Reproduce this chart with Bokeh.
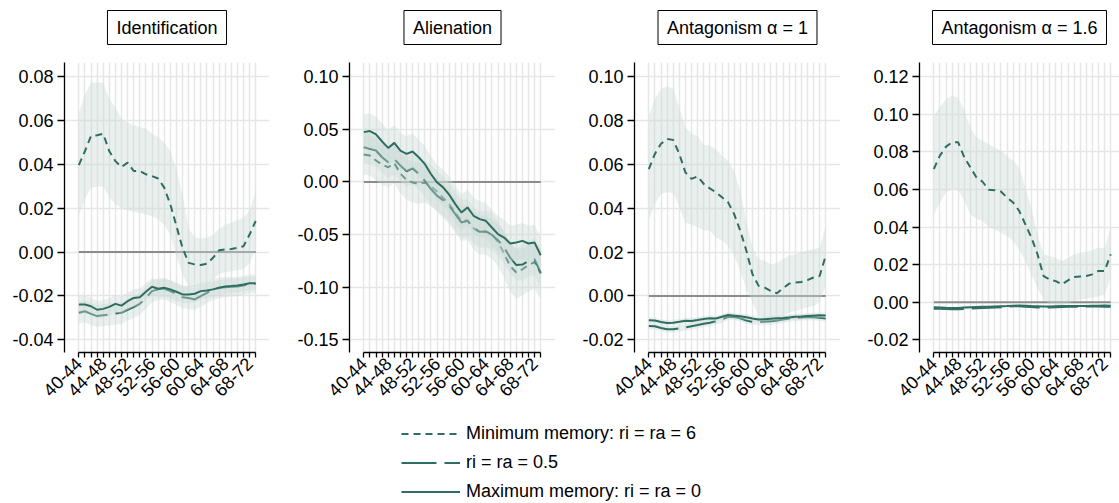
import math
from bokeh.plotting import figure
from bokeh.models import Range1d, FixedTicker, NumeralTickFormatter, Legend, LegendItem, Title
from bokeh.layouts import column, row
from bokeh.embed import file_html
from bokeh.resources import INLINE

# ---------------- data ----------------
cats = ["40-44", "41-45", "42-46", "43-47", "44-48", "45-49", "46-50", "47-51", "48-52", "49-53",
        "50-54", "51-55", "52-56", "53-57", "54-58", "55-59", "56-60", "57-61", "58-62", "59-63",
        "60-64", "61-65", "62-66", "63-67", "64-68", "65-69", "66-70", "67-71", "68-72", "69-73"]

titles = ["Identification", "Alienation", "Antagonism \u03b1 = 1", "Antagonism \u03b1 = 1.6"]
legend_labels = ["Minimum memory: ri = ra = 6", "ri = ra = 0.5", "Maximum memory: ri = ra = 0"]

id_ticks = [-0.04, -0.02, 0.00, 0.02, 0.04, 0.06, 0.08]
al_ticks = [-0.15, -0.10, -0.05, 0.00, 0.05, 0.10]
a1_ticks = [-0.02, 0.00, 0.02, 0.04, 0.06, 0.08, 0.10]
a16_ticks = [-0.02, 0.00, 0.02, 0.04, 0.06, 0.08, 0.10, 0.12]

# Identification
id_min = [0.0397, 0.0460, 0.0530, 0.0533, 0.0540, 0.0460, 0.0415, 0.0388, 0.0408, 0.0370, 0.0370, 0.0355, 0.0347, 0.0336, 0.0294,
          0.0218, 0.0119, 0.0020, -0.0049, -0.0056, -0.0059, -0.0053, -0.0026, 0.0008, 0.0012, 0.0014, 0.0020, 0.0027, 0.0080, 0.0142]
id_min_hi = [0.0636, 0.0720, 0.0773, 0.0775, 0.0773, 0.0700, 0.0660, 0.0610, 0.0590, 0.0580, 0.0570, 0.0565, 0.0540, 0.0525, 0.0500,
             0.0460, 0.0380, 0.0260, 0.0110, 0.0065, 0.0062, 0.0065, 0.0080, 0.0105, 0.0125, 0.0135, 0.0145, 0.0157, 0.0190, 0.0280]
id_min_lo = [0.0164, 0.0240, 0.0294, 0.0298, 0.0300, 0.0250, 0.0218, 0.0200, 0.0190, 0.0185, 0.0180, 0.0172, 0.0164, 0.0150, 0.0125,
             0.0080, -0.0020, -0.0100, -0.0160, -0.0160, -0.0155, -0.0140, -0.0125, -0.0100, -0.0092, -0.0087, -0.0082, -0.0078, -0.0050, 0.0012]
id_half = [-0.0277, -0.0270, -0.0282, -0.0292, -0.0288, -0.0285, -0.0280, -0.0277, -0.0263, -0.0251, -0.0236, -0.0209, -0.0178, -0.0170, -0.0166,
           -0.0178, -0.0190, -0.0206, -0.0209, -0.0216, -0.0201, -0.0186, -0.0170, -0.0163, -0.0160, -0.0158, -0.0157, -0.0152, -0.0145, -0.0145]
id_half_lo = [-0.0327, -0.0320, -0.0332, -0.0342, -0.0338, -0.0335, -0.0330, -0.0327, -0.0313, -0.0301, -0.0286, -0.0259, -0.0228, -0.0220, -0.0216,
              -0.0228, -0.0240, -0.0256, -0.0259, -0.0264, -0.0249, -0.0234, -0.0218, -0.0210, -0.0206, -0.0203, -0.0201, -0.0196, -0.0188, -0.0188]
id_half_hi = [-0.0227, -0.0220, -0.0232, -0.0242, -0.0238, -0.0235, -0.0230, -0.0227, -0.0213, -0.0201, -0.0186, -0.0159, -0.0128, -0.0120, -0.0116,
              -0.0128, -0.0140, -0.0156, -0.0159, -0.0168, -0.0153, -0.0138, -0.0122, -0.0116, -0.0114, -0.0113, -0.0113, -0.0108, -0.0102, -0.0102]
id_max = [-0.0239, -0.0239, -0.0247, -0.0263, -0.0259, -0.0250, -0.0236, -0.0244, -0.0224, -0.0209, -0.0206, -0.0181, -0.0158, -0.0167, -0.0163,
          -0.0170, -0.0181, -0.0193, -0.0193, -0.0190, -0.0178, -0.0175, -0.0170, -0.0163, -0.0157, -0.0155, -0.0152, -0.0148, -0.0142, -0.0142]
id_max_lo = [-0.0279, -0.0279, -0.0287, -0.0303, -0.0299, -0.0290, -0.0276, -0.0284, -0.0264, -0.0249, -0.0246, -0.0221, -0.0198, -0.0207, -0.0203,
             -0.0210, -0.0221, -0.0233, -0.0233, -0.0229, -0.0216, -0.0212, -0.0206, -0.0198, -0.0191, -0.0188, -0.0184, -0.0180, -0.0173, -0.0173]
id_max_hi = [-0.0199, -0.0199, -0.0207, -0.0223, -0.0219, -0.0210, -0.0196, -0.0204, -0.0184, -0.0169, -0.0166, -0.0141, -0.0118, -0.0127, -0.0123,
             -0.0130, -0.0141, -0.0153, -0.0153, -0.0151, -0.0140, -0.0138, -0.0134, -0.0128, -0.0123, -0.0122, -0.0120, -0.0116, -0.0111, -0.0111]

# Alienation
al_min = [0.0261, 0.0251, 0.0204, 0.0165, 0.0140, 0.0178, 0.0080, 0.0020, -0.0005, -0.0020, -0.0005, -0.0040, -0.0090, -0.0150, -0.0210,
          -0.0290, -0.0370, -0.0365, -0.0440, -0.0480, -0.0470, -0.0500, -0.0570, -0.0680, -0.0800, -0.0860, -0.0830, -0.0790, -0.0760, -0.0870]
al_min_hi = [0.0461, 0.0451, 0.0404, 0.0365, 0.0340, 0.0378, 0.0280, 0.0220, 0.0195, 0.0180, 0.0195, 0.0160, 0.0110, 0.0050, -0.0010,
             -0.0090, -0.0170, -0.0165, -0.0240, -0.0280, -0.0270, -0.0300, -0.0370, -0.0470, -0.0580, -0.0630, -0.0600, -0.0560, -0.0530, -0.0640]
al_min_lo = [0.0071, 0.0061, 0.0014, -0.0025, -0.0050, -0.0012, -0.0110, -0.0170, -0.0195, -0.0210, -0.0195, -0.0230, -0.0280, -0.0340, -0.0400,
             -0.0480, -0.0560, -0.0555, -0.0640, -0.0690, -0.0690, -0.0730, -0.0800, -0.0910, -0.1040, -0.1110, -0.1080, -0.1040, -0.1010, -0.1120]
al_half = [0.0331, 0.0315, 0.0299, 0.0235, 0.0188, 0.0219, 0.0156, 0.0102, 0.0130, 0.0076, 0.0013, -0.0067, -0.0130, -0.0172, -0.0226,
           -0.0305, -0.0385, -0.0369, -0.0433, -0.0474, -0.0470, -0.0502, -0.0553, -0.0623, -0.0720, -0.0790, -0.0785, -0.0750, -0.0735, -0.0862]
al_half_hi = [0.0481, 0.0465, 0.0449, 0.0385, 0.0338, 0.0369, 0.0306, 0.0252, 0.0280, 0.0226, 0.0163, 0.0083, 0.0020, -0.0022, -0.0076,
              -0.0155, -0.0235, -0.0219, -0.0283, -0.0324, -0.0320, -0.0352, -0.0403, -0.0473, -0.0570, -0.0640, -0.0635, -0.0600, -0.0585, -0.0712]
al_half_lo = [0.0181, 0.0165, 0.0149, 0.0085, 0.0038, 0.0069, 0.0006, -0.0048, -0.0020, -0.0074, -0.0137, -0.0217, -0.0280, -0.0322, -0.0376,
              -0.0455, -0.0535, -0.0519, -0.0583, -0.0624, -0.0620, -0.0652, -0.0703, -0.0773, -0.0870, -0.0940, -0.0935, -0.0900, -0.0885, -0.1012]
al_max = [0.0474, 0.0484, 0.0452, 0.0385, 0.0324, 0.0372, 0.0299, 0.0267, 0.0290, 0.0235, 0.0172, 0.0076, -0.0003, -0.0051, -0.0121,
          -0.0210, -0.0290, -0.0242, -0.0321, -0.0353, -0.0369, -0.0433, -0.0496, -0.0528, -0.0585, -0.0576, -0.0560, -0.0585, -0.0576, -0.0696]
al_max_hi = [0.0644, 0.0654, 0.0622, 0.0555, 0.0494, 0.0542, 0.0469, 0.0437, 0.0460, 0.0405, 0.0342, 0.0246, 0.0167, 0.0119, 0.0049,
             -0.0040, -0.0120, -0.0072, -0.0151, -0.0183, -0.0199, -0.0263, -0.0326, -0.0358, -0.0415, -0.0406, -0.0390, -0.0415, -0.0406, -0.0526]
al_max_lo = [0.0304, 0.0314, 0.0282, 0.0215, 0.0154, 0.0202, 0.0129, 0.0097, 0.0120, 0.0065, 0.0002, -0.0094, -0.0173, -0.0221, -0.0291,
             -0.0380, -0.0460, -0.0412, -0.0491, -0.0523, -0.0539, -0.0603, -0.0666, -0.0698, -0.0755, -0.0746, -0.0730, -0.0755, -0.0746, -0.0866]

# Antagonism alpha = 1
a1_min = [0.0579, 0.0648, 0.0694, 0.0716, 0.0712, 0.0648, 0.0564, 0.0534, 0.0546, 0.0511, 0.0491, 0.0473, 0.0450, 0.0427, 0.0373,
          0.0297, 0.0206, 0.0099, 0.0046, 0.0038, 0.0023, 0.0012, 0.0035, 0.0056, 0.0061, 0.0064, 0.0072, 0.0084, 0.0091, 0.0183]
a1_min_hi = [0.0823, 0.0900, 0.0945, 0.0956, 0.0945, 0.0860, 0.0770, 0.0740, 0.0730, 0.0690, 0.0686, 0.0670, 0.0640, 0.0617, 0.0570,
             0.0480, 0.0340, 0.0220, 0.0168, 0.0160, 0.0145, 0.0150, 0.0168, 0.0183, 0.0190, 0.0198, 0.0209, 0.0213, 0.0220, 0.0320]
a1_min_lo = [0.0343, 0.0420, 0.0465, 0.0473, 0.0468, 0.0404, 0.0335, 0.0325, 0.0313, 0.0300, 0.0297, 0.0267, 0.0252, 0.0229, 0.0183,
             0.0114, 0.0030, -0.0030, -0.0091, -0.0099, -0.0107, -0.0099, -0.0090, -0.0076, -0.0069, -0.0060, -0.0053, -0.0046, -0.0030, 0.0046]
a1_half = [-0.0137, -0.0138, -0.0146, -0.0152, -0.0152, -0.0148, -0.0143, -0.0138, -0.0133, -0.0127, -0.0122, -0.0115, -0.0107, -0.0095, -0.0096,
           -0.0102, -0.0112, -0.0118, -0.0118, -0.0117, -0.0116, -0.0112, -0.0108, -0.0103, -0.0101, -0.0098, -0.0096, -0.0097, -0.0099, -0.0103]
a1_half_lo = [-0.0152, -0.0153, -0.0161, -0.0167, -0.0167, -0.0163, -0.0158, -0.0153, -0.0148, -0.0142, -0.0137, -0.0130, -0.0122, -0.0110, -0.0111,
              -0.0117, -0.0127, -0.0133, -0.0133, -0.0132, -0.0131, -0.0127, -0.0123, -0.0118, -0.0116, -0.0113, -0.0111, -0.0112, -0.0114, -0.0118]
a1_half_hi = [-0.0122, -0.0123, -0.0131, -0.0137, -0.0137, -0.0133, -0.0128, -0.0123, -0.0118, -0.0112, -0.0107, -0.0100, -0.0092, -0.0080, -0.0081,
              -0.0087, -0.0097, -0.0103, -0.0103, -0.0102, -0.0101, -0.0097, -0.0093, -0.0088, -0.0086, -0.0083, -0.0081, -0.0082, -0.0084, -0.0088]
a1_max = [-0.0111, -0.0112, -0.0119, -0.0123, -0.0122, -0.0118, -0.0113, -0.0114, -0.0110, -0.0105, -0.0102, -0.0103, -0.0095, -0.0087, -0.0090,
          -0.0093, -0.0097, -0.0103, -0.0107, -0.0106, -0.0104, -0.0102, -0.0101, -0.0098, -0.0095, -0.0094, -0.0092, -0.0090, -0.0088, -0.0089]
a1_max_lo = [-0.0124, -0.0125, -0.0132, -0.0136, -0.0135, -0.0131, -0.0126, -0.0127, -0.0123, -0.0118, -0.0115, -0.0116, -0.0108, -0.0100, -0.0103,
             -0.0106, -0.0110, -0.0116, -0.0120, -0.0119, -0.0117, -0.0115, -0.0114, -0.0111, -0.0108, -0.0107, -0.0105, -0.0103, -0.0101, -0.0102]
a1_max_hi = [-0.0098, -0.0099, -0.0106, -0.0110, -0.0109, -0.0105, -0.0100, -0.0101, -0.0097, -0.0092, -0.0089, -0.0090, -0.0082, -0.0074, -0.0077,
             -0.0080, -0.0084, -0.0090, -0.0094, -0.0093, -0.0091, -0.0089, -0.0088, -0.0085, -0.0082, -0.0081, -0.0079, -0.0077, -0.0075, -0.0076]

# Antagonism alpha = 1.6
a16_min = [0.0709, 0.0780, 0.0828, 0.0851, 0.0851, 0.0771, 0.0717, 0.0664, 0.0641, 0.0598, 0.0596, 0.0589, 0.0557, 0.0531, 0.0486,
           0.0415, 0.0344, 0.0255, 0.0139, 0.0121, 0.0112, 0.0094, 0.0116, 0.0134, 0.0137, 0.0139, 0.0148, 0.0166, 0.0166, 0.0255]
a16_min_hi = [0.0993, 0.1040, 0.1080, 0.1100, 0.1090, 0.1020, 0.0930, 0.0878, 0.0860, 0.0842, 0.0824, 0.0806, 0.0780, 0.0753, 0.0717,
              0.0610, 0.0504, 0.0361, 0.0255, 0.0246, 0.0237, 0.0219, 0.0237, 0.0255, 0.0263, 0.0269, 0.0276, 0.0290, 0.0290, 0.0397]
a16_min_lo = [0.0468, 0.0530, 0.0584, 0.0602, 0.0596, 0.0540, 0.0468, 0.0442, 0.0433, 0.0397, 0.0388, 0.0370, 0.0352, 0.0326, 0.0281,
              0.0219, 0.0148, 0.0077, 0.0014, -0.0004, -0.0016, -0.0021, -0.0004, 0.0005, 0.0014, 0.0018, 0.0023, 0.0032, 0.0041, 0.0130]
a16_half = [-0.0035, -0.0035, -0.0036, -0.0038, -0.0038, -0.0036, -0.0034, -0.0033, -0.0031, -0.0030, -0.0029, -0.0027, -0.0025, -0.0022, -0.0022,
            -0.0024, -0.0026, -0.0028, -0.0028, -0.0028, -0.0027, -0.0026, -0.0025, -0.0024, -0.0024, -0.0023, -0.0023, -0.0023, -0.0024, -0.0025]
a16_half_lo = [-0.0040, -0.0040, -0.0041, -0.0043, -0.0043, -0.0041, -0.0039, -0.0038, -0.0036, -0.0035, -0.0034, -0.0032, -0.0030, -0.0027, -0.0027,
               -0.0029, -0.0031, -0.0033, -0.0033, -0.0033, -0.0032, -0.0031, -0.0030, -0.0029, -0.0029, -0.0028, -0.0028, -0.0028, -0.0029, -0.0030]
a16_half_hi = [-0.0030, -0.0030, -0.0031, -0.0033, -0.0033, -0.0031, -0.0029, -0.0028, -0.0026, -0.0025, -0.0024, -0.0022, -0.0020, -0.0017, -0.0017,
               -0.0019, -0.0021, -0.0023, -0.0023, -0.0023, -0.0022, -0.0021, -0.0020, -0.0019, -0.0019, -0.0018, -0.0018, -0.0018, -0.0019, -0.0020]
a16_max = [-0.0027, -0.0028, -0.0030, -0.0031, -0.0031, -0.0029, -0.0027, -0.0026, -0.0025, -0.0024, -0.0023, -0.0022, -0.0021, -0.0019, -0.0018,
           -0.0019, -0.0021, -0.0022, -0.0023, -0.0023, -0.0022, -0.0021, -0.0021, -0.0020, -0.0020, -0.0020, -0.0019, -0.0019, -0.0018, -0.0019]
a16_max_lo = [-0.0031, -0.0032, -0.0034, -0.0035, -0.0035, -0.0033, -0.0031, -0.0030, -0.0029, -0.0028, -0.0027, -0.0026, -0.0025, -0.0023, -0.0022,
              -0.0023, -0.0025, -0.0026, -0.0027, -0.0027, -0.0026, -0.0025, -0.0025, -0.0024, -0.0024, -0.0024, -0.0023, -0.0023, -0.0022, -0.0023]
a16_max_hi = [-0.0023, -0.0024, -0.0026, -0.0027, -0.0027, -0.0025, -0.0023, -0.0022, -0.0021, -0.0020, -0.0019, -0.0018, -0.0017, -0.0015, -0.0014,
              -0.0015, -0.0017, -0.0018, -0.0019, -0.0019, -0.0018, -0.0017, -0.0017, -0.0016, -0.0016, -0.0016, -0.0015, -0.0015, -0.0014, -0.0015]

# ---------------- style ----------------
FONT = "Liberation Sans"
FS = "18px"
LINE = "#2e6d62"
BAND = "#cbd9d4"
BAND_ALPHA = 0.4
GRID = "#e6e6e6"
ZERO = "#8c8c8c"
DASHES = ["7 5", "30 8", "solid"]
LEG_DASHES = ["7 5", "35 8", "solid"]
STEP = 6.1          # px per category
LEAD = 14.3         # px between y axis and first category

x = list(range(len(cats)))
labels = {i: (c if i % 4 == 0 else "") for i, c in enumerate(cats)}

panels = [
    (titles[0], id_ticks, (-0.0458, 0.0865), [(id_min, id_min_lo, id_min_hi), (id_half, id_half_lo, id_half_hi), (id_max, id_max_lo, id_max_hi)]),
    (titles[1], al_ticks, (-0.1621, 0.1136), [(al_min, al_min_lo, al_min_hi), (al_half, al_half_lo, al_half_hi), (al_max, al_max_lo, al_max_hi)]),
    (titles[2], a1_ticks, (-0.0258, 0.1065), [(a1_min, a1_min_lo, a1_min_hi), (a1_half, a1_half_lo, a1_half_hi), (a1_max, a1_max_lo, a1_max_hi)]),
    (titles[3], a16_ticks, (-0.0268, 0.1276), [(a16_min, a16_min_lo, a16_min_hi), (a16_half, a16_half_lo, a16_half_hi), (a16_max, a16_max_lo, a16_max_hi)]),
]
# (figure width, left border, right border)
geom = [(280, 64, 11), (280, 69, 5), (280, 74, 0), (279, 79, 0)]

TOP, BOTTOM, FRAME_H = 62, 56, 290
LEG_H = 95

figs = []
for (title, ticks, yr, series), (w, bl, br) in zip(panels, geom):
    frame_w = w - bl - br
    x0 = -LEAD / STEP
    x1 = x0 + frame_w / STEP
    p = figure(width=w, height=TOP + FRAME_H + BOTTOM, output_backend="svg", toolbar_location=None,
               x_range=Range1d(x0, x1), y_range=Range1d(*yr),
               min_border_left=bl, min_border_right=br, min_border_top=TOP, min_border_bottom=BOTTOM)
    p.outline_line_color = None
    p.background_fill_color = "white"
    p.border_fill_color = "white"

    # an invisible spacer next to the frame, then the boxed title above it
    p.add_layout(Title(text=" ", text_font_size="2px", standoff=12), "above")
    p.add_layout(Title(text=title, text_font=FONT, text_font_size=FS, text_font_style="normal",
                       text_color="black", align="center", standoff=4,
                       border_line_color="black", border_line_width=1, background_fill_color="white",
                       padding=dict(left=9, right=9, top=7, bottom=7)), "above")

    p.xaxis.ticker = FixedTicker(ticks=x)
    p.xaxis.major_label_overrides = labels
    p.xaxis.bounds = (x[0], x[-1])
    p.xaxis.major_label_orientation = math.pi / 4
    p.xaxis.major_label_text_font = FONT
    p.xaxis.major_label_text_font_size = FS
    p.xaxis.major_label_text_color = "black"
    p.xaxis.major_label_standoff = 3
    p.xaxis.major_tick_out = 5
    p.xaxis.major_tick_in = 0
    p.xaxis.minor_tick_line_color = None
    p.xaxis.axis_line_width = 1.3
    p.xaxis.major_tick_line_width = 1.3
    p.xaxis.axis_line_color = "black"
    p.xaxis.major_tick_line_color = "black"

    p.yaxis.ticker = FixedTicker(ticks=ticks)
    p.yaxis.formatter = NumeralTickFormatter(format="0.00")
    p.yaxis.major_label_text_font = FONT
    p.yaxis.major_label_text_font_size = FS
    p.yaxis.major_label_text_color = "black"
    p.yaxis.major_label_standoff = 4
    p.yaxis.major_tick_out = 7
    p.yaxis.major_tick_in = 0
    p.yaxis.minor_tick_line_color = None
    p.yaxis.axis_line_width = 1.3
    p.yaxis.major_tick_line_width = 1.3
    p.yaxis.axis_line_color = "black"
    p.yaxis.major_tick_line_color = "black"

    p.xgrid.grid_line_color = GRID
    p.xgrid.grid_line_width = 1.5
    p.ygrid.grid_line_color = GRID
    p.ygrid.grid_line_width = 1.5

    p.line([x[0], x[-1]], [0, 0], line_color=ZERO, line_width=2)
    for (ys, lo, hi), dash in zip(series, DASHES):
        p.varea(x=x, y1=lo, y2=hi, fill_color=BAND, fill_alpha=BAND_ALPHA)
        p.line(x, ys, line_color=LINE, line_width=2, line_dash=dash)
    figs.append(p)

# ---------------- legend ----------------
total_w = sum(g[0] for g in geom)
# the ranges lie away from the data, so only the legend's own samples are seen
lg = figure(width=total_w, height=LEG_H, output_backend="svg", toolbar_location=None,
            x_range=Range1d(1000, 1001), y_range=Range1d(1000, 1001), min_border=0)
lg.axis.visible = False
lg.grid.visible = False
lg.outline_line_color = None
items = []
for lab, dash, (ys, _, _) in zip(legend_labels, LEG_DASHES, panels[0][3]):
    r = lg.line(x, ys, line_color=LINE, line_width=2, line_dash=dash)
    items.append(LegendItem(label=lab, renderers=[r]))
leg = Legend(items=items, location=(401, 1), glyph_width=59, glyph_height=21, label_height=21,
             spacing=8, padding=0, margin=0, label_standoff=6, border_line_color=None,
             background_fill_alpha=0, label_text_font=FONT, label_text_font_size=FS,
             label_text_color="black")
lg.add_layout(leg)

layout = column(row(*figs), lg)
open("out.html", "w").write(file_html(layout, INLINE))
